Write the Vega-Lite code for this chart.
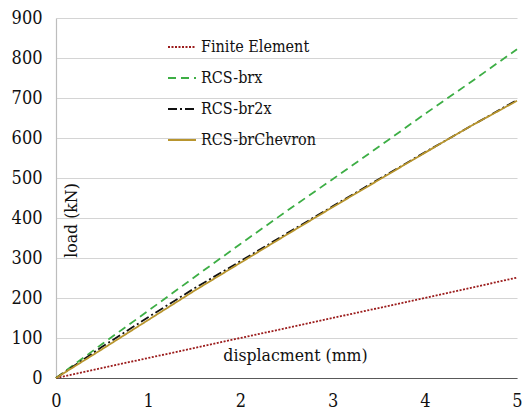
{
  "$schema": "https://vega.github.io/schema/vega-lite/v6.json",
  "width": 461,
  "height": 360,
  "autosize": {"type": "none"},
  "padding": {"left": 56, "top": 18, "right": 6, "bottom": 41},
  "background": "white",
  "config": {
    "view": {"stroke": null},
    "font": "DejaVu Serif Condensed"
  },
  "data": {
    "values": [
      {"x": 0, "y": 0, "s": "Finite Element"},
      {"x": 1, "y": 50, "s": "Finite Element"},
      {"x": 2, "y": 100, "s": "Finite Element"},
      {"x": 3, "y": 150, "s": "Finite Element"},
      {"x": 4, "y": 200, "s": "Finite Element"},
      {"x": 5, "y": 251, "s": "Finite Element"},
      {"x": 0, "y": 0, "s": "RCS-brx"},
      {"x": 0.5, "y": 85, "s": "RCS-brx"},
      {"x": 1, "y": 168, "s": "RCS-brx"},
      {"x": 1.5, "y": 252, "s": "RCS-brx"},
      {"x": 2, "y": 335, "s": "RCS-brx"},
      {"x": 2.5, "y": 417, "s": "RCS-brx"},
      {"x": 3, "y": 497, "s": "RCS-brx"},
      {"x": 3.5, "y": 578, "s": "RCS-brx"},
      {"x": 4, "y": 660, "s": "RCS-brx"},
      {"x": 4.5, "y": 740, "s": "RCS-brx"},
      {"x": 5, "y": 822, "s": "RCS-brx"},
      {"x": 0, "y": 0, "s": "RCS-br2x"},
      {"x": 0.5, "y": 78, "s": "RCS-br2x"},
      {"x": 1, "y": 152, "s": "RCS-br2x"},
      {"x": 1.5, "y": 224, "s": "RCS-br2x"},
      {"x": 2, "y": 292, "s": "RCS-br2x"},
      {"x": 2.5, "y": 361, "s": "RCS-br2x"},
      {"x": 3, "y": 429, "s": "RCS-br2x"},
      {"x": 3.5, "y": 497, "s": "RCS-br2x"},
      {"x": 4, "y": 564, "s": "RCS-br2x"},
      {"x": 4.5, "y": 630, "s": "RCS-br2x"},
      {"x": 5, "y": 695, "s": "RCS-br2x"},
      {"x": 0, "y": 0, "s": "RCS-brChevron"},
      {"x": 0.5, "y": 72, "s": "RCS-brChevron"},
      {"x": 1, "y": 145, "s": "RCS-brChevron"},
      {"x": 1.5, "y": 218, "s": "RCS-brChevron"},
      {"x": 2, "y": 288, "s": "RCS-brChevron"},
      {"x": 2.5, "y": 358, "s": "RCS-brChevron"},
      {"x": 3, "y": 427, "s": "RCS-brChevron"},
      {"x": 3.5, "y": 495, "s": "RCS-brChevron"},
      {"x": 4, "y": 563, "s": "RCS-brChevron"},
      {"x": 4.5, "y": 630, "s": "RCS-brChevron"},
      {"x": 5, "y": 693, "s": "RCS-brChevron"}
    ]
  },
  "mark": {"type": "line", "strokeWidth": 1.8},
  "encoding": {
    "x": {
      "field": "x", "type": "quantitative",
      "scale": {"domain": [0, 5], "nice": false},
      "axis": {
        "values": [0, 1, 2, 3, 4, 5],
        "grid": false, "ticks": false,
        "domainColor": "#595959", "domainWidth": 1.2,
        "labelFontSize": 18, "labelColor": "#111", "labelPadding": 14,
        "labelFlush": false,
        "title": "displacment (mm)",
        "titleFontSize": 17.5, "titleFontWeight": "normal", "titleColor": "#111",
        "titleX": 239, "titleY": -23, "titleBaseline": "middle", "titleAlign": "center"
      }
    },
    "y": {
      "field": "y", "type": "quantitative",
      "scale": {"domain": [0, 900], "nice": false},
      "axis": {
        "values": [0, 100, 200, 300, 400, 500, 600, 700, 800, 900],
        "grid": true, "gridColor": "#d4d4d4", "gridWidth": 1.2,
        "ticks": false,
        "domainColor": "#bdbdbd", "domainWidth": 1.2,
        "labelFontSize": 18, "labelColor": "#111", "labelPadding": 14,
        "title": "load (kN)",
        "titleFontSize": 17.5, "titleFontWeight": "normal", "titleColor": "#111",
        "titleAngle": -90, "titleX": 15, "titleY": 202,
        "titleBaseline": "middle", "titleAlign": "center"
      }
    },
    "color": {
      "field": "s", "type": "nominal",
      "scale": {
        "domain": ["Finite Element", "RCS-brx", "RCS-br2x", "RCS-brChevron"],
        "range": ["#9b1c1c", "#3dae45", "#111111", "#b8952e"]
      },
      "legend": {
        "title": null, "orient": "none", "legendX": 111, "legendY": 14,
        "symbolType": "stroke", "symbolSize": 784, "symbolStrokeWidth": 1.8,
        "labelFontSize": 16, "labelColor": "#111", "labelOffset": 4,
        "rowPadding": 8
      }
    },
    "strokeDash": {
      "field": "s", "type": "nominal",
      "scale": {
        "domain": ["Finite Element", "RCS-brx", "RCS-br2x", "RCS-brChevron"],
        "range": [[2, 1.5], [8, 5], [9, 3, 2, 3], [1, 0]]
      },
      "legend": null
    },
    "order": {"field": "x", "type": "quantitative"}
  }
}
